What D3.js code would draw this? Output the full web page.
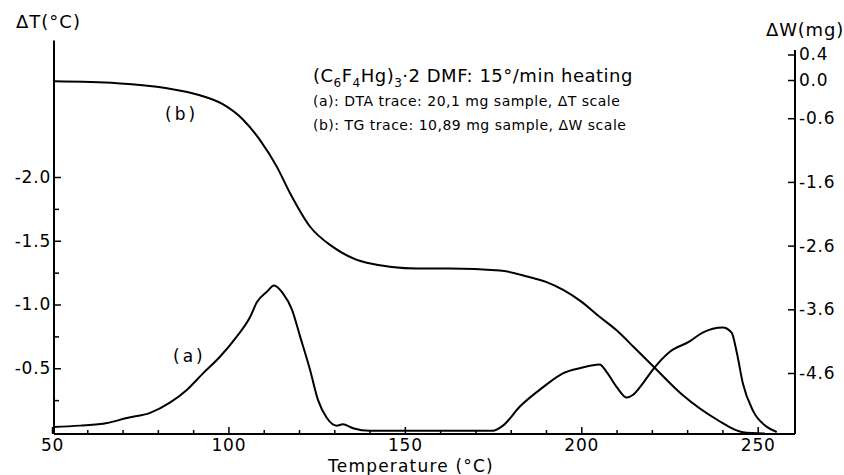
<!DOCTYPE html>
<html>
<head>
<meta charset="utf-8">
<script src="https://cdnjs.cloudflare.com/ajax/libs/d3/7.8.5/d3.min.js"></script>
<style>
  body { margin: 0; background: #fff; }
  svg text { font-family: "DejaVu Sans", sans-serif; fill: #000; }
</style>
</head>
<body>
<div id="chart"></div>
<script>
// temperature axis (deg C)
var xTicks = [50, 100, 150, 200, 250]
var xMinor = [60, 70, 80, 90, 110, 120, 130, 140, 160, 170, 180, 190, 210, 220, 230, 240]
// left: DTA delta T, right: TG delta W
var dtTicks = [-0.5, -1.0, -1.5, -2.0]
var dtMinor = [-0.25, -0.75, -1.25, -1.75]
var dwTicks = [0.4, 0.0, -0.6, -1.6, -2.6, -3.6, -4.6]

// (a) DTA trace
var dtaTemp = [50.3, 57.9, 65.6, 71.2, 77.8, 83.4, 88.2, 92.8, 97.6, 102.4, 106.1, 108.1, 110.9, 112.9,
  115.4, 118.0, 120.3, 123.1, 125.4, 127.9, 130.7, 132.4, 135.3, 140.1, 149.4, 162.7, 174.9, 177.8,
  182.6, 189.1, 194.8, 199.6, 205.2, 207.2, 210.1, 212.9, 214.6, 217.4, 220.3, 225.1, 230.7, 234.4,
  240.1, 242.6, 244.1, 245.8, 248.6, 252.6, 255.4]
var dtaDelta = [-0.04, -0.05, -0.07, -0.11, -0.15, -0.23, -0.33, -0.46, -0.59, -0.75, -0.90, -1.02, -1.10, -1.15,
  -1.09, -0.96, -0.75, -0.49, -0.25, -0.11, -0.05, -0.06, -0.03, -0.01, -0.01, -0.01, -0.01, -0.05,
  -0.20, -0.35, -0.46, -0.50, -0.53, -0.47, -0.35, -0.27, -0.29, -0.38, -0.49, -0.63, -0.71, -0.78,
  -0.82, -0.78, -0.62, -0.38, -0.17, -0.04, 0.0]

// (b) TG trace
var tgTemp = [50.6, 68.4, 82.6, 91.9, 98.4, 104.1, 108.9, 113.7, 117.4, 123.1, 129.6, 139.2, 153.4, 162.7,
  176.9, 185.0, 190.0, 195.0, 200.0, 205.0, 210.0, 215.0, 220.3, 228.8, 238.4, 245.8, 252.0]
var tgMass = [-0.02, -0.05, -0.13, -0.24, -0.38, -0.62, -0.94, -1.36, -1.77, -2.30, -2.62, -2.87, -2.96, -2.96,
  -2.99, -3.09, -3.17, -3.30, -3.48, -3.71, -3.93, -4.20, -4.49, -4.95, -5.33, -5.53, -5.55]

var w = 844, h = 475
var svg = d3.select('#chart').append('svg').attr('width', w).attr('height', h)

var left = 54, right = 795, bottom = 434
var x = d3.scaleLinear().domain([50, 260]).range([52, 793])
var yT = d3.scaleLinear().domain([0, -2]).range([432, 177])
var yW = d3.scaleLinear().domain([0, -4.6]).range([80, 373])
var fmt = function(d){ return d.toFixed(1) }

// frame lines
svg.append('line').attr('x1', left).attr('x2', left).attr('y1', yT(-3.07)).attr('y2', bottom)
  .attr('stroke', '#000').attr('stroke-width', 2)
svg.append('line').attr('x1', right).attr('x2', right).attr('y1', yW(0.47)).attr('y2', bottom)
  .attr('stroke', '#000').attr('stroke-width', 2)
svg.append('line').attr('x1', left).attr('x2', right).attr('y1', bottom).attr('y2', bottom)
  .attr('stroke', '#000').attr('stroke-width', 2)

// bottom axis
var gx = svg.append('g').attr('transform', 'translate(0,' + bottom + ')')
  .call(d3.axisBottom(x).tickValues(xTicks).tickSize(-7).tickSizeOuter(0).tickPadding(5))
var gxm = svg.append('g').attr('transform', 'translate(0,' + bottom + ')')
  .call(d3.axisBottom(x).tickValues(xMinor).tickSize(-4).tickSizeOuter(0).tickFormat(''))

// left axis
var gl = svg.append('g').attr('transform', 'translate(' + left + ',0)')
  .call(d3.axisLeft(yT).tickValues(dtTicks).tickSize(-7).tickSizeOuter(0).tickPadding(3).tickFormat(fmt))
var glm = svg.append('g').attr('transform', 'translate(' + left + ',0)')
  .call(d3.axisLeft(yT).tickValues(dtMinor).tickSize(-5).tickSizeOuter(0).tickFormat(''))

// right axis
var gr = svg.append('g').attr('transform', 'translate(' + right + ',0)')
  .call(d3.axisRight(yW).tickValues(dwTicks).tickSize(-7).tickSizeOuter(0).tickPadding(4).tickFormat(fmt))

svg.selectAll('.domain').remove()
svg.selectAll('.tick line').attr('stroke', '#000').attr('stroke-width', 1.5)
svg.selectAll('.tick text').style('font-size', '17px').style('letter-spacing', '0.8px').attr('fill', '#000')

// curves
var lineA = d3.line().x(function(d){ return x(d[0]) }).y(function(d){ return yT(d[1]) }).curve(d3.curveMonotoneX)
var lineB = d3.line().x(function(d){ return x(d[0]) }).y(function(d){ return yW(d[1]) }).curve(d3.curveMonotoneX)

svg.append('path').datum(d3.zip(dtaTemp, dtaDelta)).attr('d', lineA)
  .attr('fill', 'none').attr('stroke', '#000').attr('stroke-width', 2)
svg.append('path').datum(d3.zip(tgTemp, tgMass)).attr('d', lineB)
  .attr('fill', 'none').attr('stroke', '#000').attr('stroke-width', 2)

// labels
svg.append('text').attr('x', 16).attr('y', 28).style('font-size', '18px').style('letter-spacing', '1px').text('ΔT(°C)')
svg.append('text').attr('x', 844).attr('y', 36).attr('text-anchor', 'end').style('font-size', '18px').style('letter-spacing', '0.8px').text('ΔW(mg)')
svg.append('text').attr('x', 411).attr('y', 472).attr('text-anchor', 'middle').style('font-size', '17px').style('letter-spacing', '1.2px').text('Temperature (°C)')
svg.append('text').attr('x', 165).attr('y', 120).style('font-size', '17px').style('letter-spacing', '3px').text('(b)')
svg.append('text').attr('x', 173).attr('y', 362).style('font-size', '17px').style('letter-spacing', '3px').text('(a)')

var title = svg.append('text').attr('x', 313).attr('y', 82).style('font-size', '18px').style('letter-spacing', '0.5px')
title.append('tspan').text('(C')
title.append('tspan').attr('dy', 5).style('font-size', '12px').text('6')
title.append('tspan').attr('dy', -5).text('F')
title.append('tspan').attr('dy', 5).style('font-size', '12px').text('4')
title.append('tspan').attr('dy', -5).text('Hg)')
title.append('tspan').attr('dy', 5).style('font-size', '12px').text('3')
title.append('tspan').attr('dy', -5).text('·2 DMF: 15°/min heating')

svg.append('text').attr('x', 313).attr('y', 106).style('font-size', '14px').style('letter-spacing', '0.5px').text('(a): DTA trace: 20,1 mg sample, ΔT scale')
svg.append('text').attr('x', 313).attr('y', 130).style('font-size', '14px').style('letter-spacing', '0.5px').text('(b): TG trace: 10,89 mg sample, ΔW scale')
</script>
</body>
</html>
